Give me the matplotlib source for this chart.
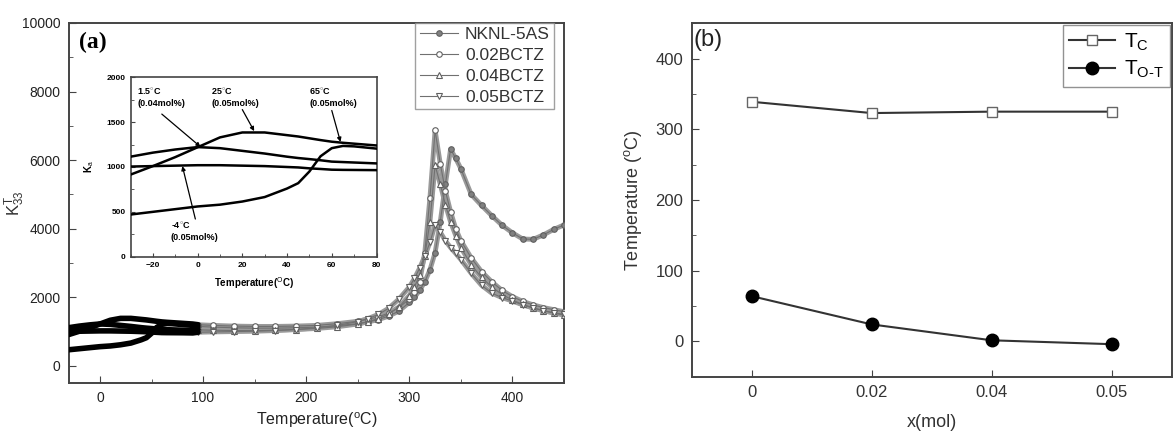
import matplotlib
matplotlib.use("Agg")
import matplotlib.pyplot as plt
from matplotlib.ticker import MultipleLocator

plt.rcParams['font.family'] = ['Liberation Sans', 'DejaVu Sans']
plt.rcParams['mathtext.fontset'] = 'custom'
plt.rcParams['mathtext.rm'] = 'Liberation Sans'
plt.rcParams['mathtext.it'] = 'Liberation Sans:italic'

# ---------------- data: panel (a) ----------------
series_names = ['NKNL-5AS', '0.02BCTZ', '0.04BCTZ', '0.05BCTZ']

temp_low = [-30, -20, -10, 0, 10, 20, 30, 40, 45, 50, 55, 60, 65, 70, 80, 90]
k_low_nknl = [470, 500, 530, 560, 580, 615, 665, 760, 820, 950, 1120, 1210, 1235, 1230, 1205, 1180]
k_low_002 = [915, 1010, 1110, 1220, 1330, 1385, 1385, 1355, 1340, 1320, 1300, 1282, 1270, 1260, 1240, 1220]
k_low_004 = [1115, 1160, 1195, 1222, 1210, 1180, 1150, 1115, 1100, 1088, 1075, 1060, 1055, 1050, 1040, 1030]
k_low_005 = [1005, 1010, 1015, 1020, 1020, 1015, 1010, 1000, 995, 985, 978, 970, 968, 967, 965, 960]

temp_high = [95, 110, 130, 150, 170, 190, 210, 230, 250, 260, 270, 280, 290, 300, 305, 310,
             315, 320, 325, 330, 335, 340, 345, 350, 360, 370, 380, 390, 400, 410, 420, 430, 440, 450]
k_high_nknl = [1150, 1130, 1110, 1100, 1100, 1110, 1130, 1170, 1230, 1280, 1350, 1450, 1600, 1850, 2000, 2200,
               2450, 2800, 3300, 4200, 5300, 6320, 6050, 5750, 5000, 4680, 4380, 4100, 3880, 3700, 3690, 3820, 3980, 4110]
k_high_002 = [1200, 1180, 1160, 1150, 1150, 1160, 1180, 1230, 1300, 1360, 1430, 1540, 1700, 1950, 2150, 2450,
              3300, 4900, 6870, 5900, 5100, 4500, 4000, 3650, 3150, 2750, 2450, 2200, 2020, 1880, 1780, 1700, 1640, 1580]
k_high_004 = [1050, 1040, 1030, 1030, 1040, 1060, 1090, 1140, 1220, 1290, 1380, 1510, 1720, 2050, 2300, 2650,
              3200, 4200, 5850, 5300, 4700, 4200, 3800, 3450, 2950, 2580, 2300, 2080, 1920, 1790, 1690, 1610, 1540, 1480]
k_high_005 = [980, 990, 1000, 1010, 1030, 1060, 1110, 1180, 1290, 1380, 1500, 1680, 1950, 2300, 2550, 2850,
              3200, 3600, 4115, 3900, 3650, 3450, 3280, 3100, 2700, 2350, 2120, 1990, 1890, 1780, 1690, 1610, 1550, 1500]

# ---------------- data: panel (b) ----------------
x_labels = ['0', '0.02', '0.04', '0.05']
t_c = [339, 323, 325, 325]
t_ot = [64, 24, 1.5, -4]

# inset annotations
inset_notes = ['1.5$^{\\circ}$C\n(0.04mol%)', '25$^{\\circ}$C\n(0.05mol%)',
               '65$^{\\circ}$C\n(0.05mol%)', '-4$^{\\circ}$C\n(0.05mol%)']

W, H = 1176, 432
fig = plt.figure(figsize=(W / 100, H / 100), dpi=100)

def rect(l, t, r, b):
    return [l / W, 1 - b / H, (r - l) / W, (b - t) / H]

spine_c = '#444444'
grey = '#808080'

def style(ax, lw=1.4):
    for s in ax.spines.values():
        s.set_color(spine_c)
        s.set_linewidth(lw)
    ax.tick_params(which='both', direction='in', top=False, right=False, color=spine_c)

# ---------------- panel (a) ----------------
ax = fig.add_axes(rect(69, 23, 564, 383))
style(ax)
lows = [k_low_nknl, k_low_002, k_low_004, k_low_005]
highs = [k_high_nknl, k_high_002, k_high_004, k_high_005]
markers = ['o', 'o', '^', 'v']
mfcs = [grey, 'white', 'white', 'white']
handles = []
for name, lo, hi, m, fc in zip(series_names, lows, highs, markers, mfcs):
    ax.plot(temp_high, hi, '-', color='#9a9a9a', lw=3.5, zorder=2)
    h, = ax.plot(temp_high, hi, '-', color='#707070', lw=0.8, marker=m, ms=4,
                 mfc=fc, mec='#606060', mew=0.8, zorder=3, label=name)
    handles.append(h)
for lo, hi in zip(lows, highs):
    ax.plot(temp_low + [temp_high[0]], lo + [hi[0]], '-', color='black', lw=4.0,
            solid_capstyle='round', zorder=4)
ax.set_xlim(-30, 450)
ax.set_ylim(-500, 10000)
ax.xaxis.set_major_locator(MultipleLocator(100))
ax.xaxis.set_minor_locator(MultipleLocator(50))
ax.yaxis.set_major_locator(MultipleLocator(2000))
ax.yaxis.set_minor_locator(MultipleLocator(1000))
ax.tick_params(which='major', length=5, labelsize=10, labelcolor='#222222', pad=6)
ax.tick_params(which='minor', length=3)
ax.set_xlabel('Temperature($^{\\rm o}$C)', fontsize=11.5, labelpad=4, color='#222222')
ax.set_ylabel("K$^{\\rm T}_{33}$", fontsize=12, color='#333333')
ax.yaxis.set_label_coords(-0.085, 0.5)
ax.text(0.02, 0.975, '(a)', transform=ax.transAxes, fontsize=17, fontweight='bold',
        family='Liberation Serif', va='top', ha='left')
leg = ax.legend(handles=handles, loc='upper right', bbox_to_anchor=(0.98, 1.0),
                fontsize=12.5, frameon=True, fancybox=False, edgecolor='#888888',
                handlelength=2.2, labelspacing=0.32, borderpad=0.25, handletextpad=0.4,
                borderaxespad=0.0)
leg.get_frame().set_linewidth(1.0)
for t in leg.get_texts():
    t.set_color('#333333')

# inset
axi = fig.add_axes(rect(130.5, 77.3, 376.5, 256.7))
style(axi, lw=1.2)
for lo in lows:
    axi.plot(temp_low, lo, '-', color='black', lw=1.8, zorder=3)
axi.set_xlim(-30, 80)
axi.set_ylim(0, 2000)
axi.xaxis.set_major_locator(MultipleLocator(20))
axi.xaxis.set_minor_locator(MultipleLocator(10))
axi.yaxis.set_major_locator(MultipleLocator(500))
axi.yaxis.set_minor_locator(MultipleLocator(250))
axi.tick_params(which='major', length=3, labelsize=6)
axi.tick_params(which='minor', length=2)
for lab in axi.get_xticklabels() + axi.get_yticklabels():
    lab.set_fontweight('bold')
axi.set_xlabel('Temperature($^{\\rm O}$C)', fontsize=7, fontweight='bold', labelpad=5)
axi.set_ylabel('K$_{\\rm a}$', fontsize=7, fontweight='bold', labelpad=8)

note_pos = [(-27, 1900), (6, 1900), (50, 1900), (-12, 400)]
arrow_from = [(-16, 1590), (20, 1640), (60, 1630), (-1, 420)]
arrow_to = [(1.3, 1225), (25.3, 1400), (63.9, 1280), (-6.8, 1010)]
for txt, p, a0, a1 in zip(inset_notes, note_pos, arrow_from, arrow_to):
    axi.text(p[0], p[1], txt, fontsize=6.5, fontweight='bold', va='top', ha='left',
             linespacing=1.3)
    axi.annotate('', xy=a1, xytext=a0,
                 arrowprops=dict(arrowstyle='-|>', color='black', lw=0.9,
                                 mutation_scale=6, shrinkA=0, shrinkB=0))

# ---------------- panel (b) ----------------
bx = fig.add_axes(rect(691.5, 23.3, 1171.7, 376.7))
style(bx)
xi = list(range(len(x_labels)))
bx.plot(xi, t_c, '-', color='#333333', lw=1.5, marker='s', ms=7, mfc='white',
        mec='#666666', mew=1.0, label='T$_{\\rm C}$')
bx.plot(xi, t_ot, '-', color='#333333', lw=1.5, marker='o', ms=9, mfc='black',
        mec='black', label='T$_{\\rm O\\text{-}T}$')
bx.set_xlim(-0.5, 3.5)
bx.set_ylim(-50, 450)
bx.set_xticks(xi)
bx.set_xticklabels(x_labels)
bx.yaxis.set_major_locator(MultipleLocator(100))
bx.yaxis.set_minor_locator(MultipleLocator(50))
bx.tick_params(which='major', length=5, labelsize=12, labelcolor='#333333', pad=6)
bx.tick_params(which='minor', length=3)
bx.tick_params(axis='x', which='minor', bottom=False)
bx.set_xlabel('x(mol)', fontsize=13, labelpad=10, color='#333333')
bx.set_ylabel('Temperature ($^{\\rm o}$C)', fontsize=13, labelpad=8, color='#333333')
bx.text(0.005, 0.985, '(b)', transform=bx.transAxes, fontsize=17, va='top', ha='left',
        color='#222222')
lg = bx.legend(loc='upper right', fontsize=15, frameon=True, fancybox=False,
               edgecolor='#777777', handlelength=2.2, labelspacing=0.3, borderpad=0.3,
               handletextpad=0.4, borderaxespad=0.1)
lg.get_frame().set_linewidth(1.0)

fig.savefig('out.png', dpi=100)
